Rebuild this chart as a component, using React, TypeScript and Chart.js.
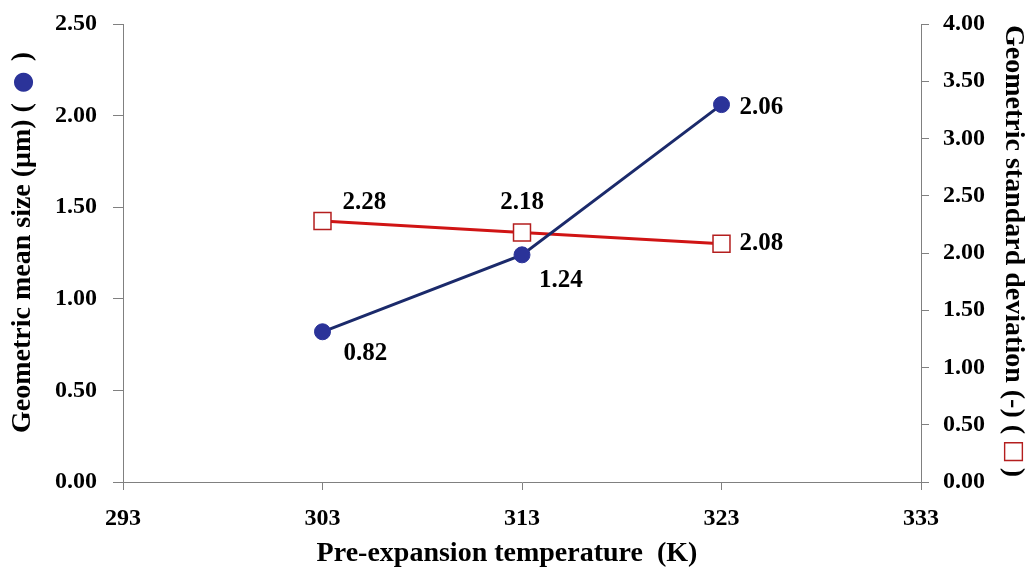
import React, { useEffect, useRef } from "react";
import { Chart, registerables } from "chart.js";

Chart.register(...registerables);

const temperatures = [303, 313, 323];
const meanSize = [0.82, 1.24, 2.06];
const stdDev = [2.28, 2.18, 2.08];
const meanLabels = ["0.82", "1.24", "2.06"];
const stdLabels = ["2.28", "2.18", "2.08"];
const xTitle = "Pre-expansion temperature  (K)";
const leftTitle = ["Geometric mean size (\u03bcm) (", "\u25cf", ")"];
const rightTitle = ["Geometric standard deviation (-) (", "\u25a1", ")"];

const FONT = '"Liberation Serif", "Times New Roman", serif';
const SYMFONT = '"DejaVu Sans", sans-serif';
const BLUE_FILL = "#2B3399";
const BLUE_LINE = "#1B2A6B";
const RED_LINE = "#D01414";
const RED_MARK = "#B41E1E";

// label offsets (style only) relative to the point, [dx, dy, align]
const meanLabelOffsets: [number, number, CanvasTextAlign][] = [
  [21, 22, "left"],
  [17, 26, "left"],
  [18, 3, "left"],
];
const stdLabelOffsets: [number, number, CanvasTextAlign][] = [
  [20, -18, "left"],
  [0, -30, "center"],
  [18, 0, "left"],
];

type Piece = { text: string; color: string; font: string; gapBefore: number };

function drawSeq(
  ctx: CanvasRenderingContext2D,
  pieces: Piece[],
  sx: number,
  sy: number,
  angle: number
) {
  ctx.save();
  ctx.translate(sx, sy);
  ctx.rotate(angle);
  ctx.textBaseline = "middle";
  ctx.textAlign = "left";
  let x = 0;
  pieces.forEach((p) => {
    x += p.gapBefore;
    ctx.font = p.font;
    ctx.fillStyle = p.color;
    ctx.fillText(p.text, x, 0);
    x += ctx.measureText(p.text).width;
  });
  ctx.restore();
}

const textPlugin = {
  id: "customText",
  afterDatasetsDraw(chart: any) {
    const ctx: CanvasRenderingContext2D = chart.ctx;
    ctx.save();
    ctx.font = `bold 25px ${FONT}`;
    ctx.fillStyle = "#000";
    ctx.textBaseline = "middle";
    const m0 = chart.getDatasetMeta(0).data;
    m0.forEach((pt: any, i: number) => {
      const [dx, dy, al] = meanLabelOffsets[i];
      ctx.textAlign = al;
      ctx.fillText(meanLabels[i], pt.x + dx, pt.y + dy);
    });
    const m1 = chart.getDatasetMeta(1).data;
    m1.forEach((pt: any, i: number) => {
      const [dx, dy, al] = stdLabelOffsets[i];
      ctx.textAlign = al;
      ctx.fillText(stdLabels[i], pt.x + dx, pt.y + dy);
    });
    ctx.restore();
  },
  afterDraw(chart: any) {
    const ctx: CanvasRenderingContext2D = chart.ctx;
    const font = `bold 28px ${FONT}`;
    ctx.save();
    ctx.font = font;
    const xw = ctx.measureText(xTitle).width;
    ctx.restore();
    drawSeq(ctx, [{ text: xTitle, color: "#000", font, gapBefore: 0 }], 507 - xw / 2, 554, 0);
    drawSeq(
      ctx,
      [
        { text: leftTitle[0], color: "#000", font, gapBefore: 0 },
        { text: leftTitle[1], color: BLUE_FILL, font: `25px ${SYMFONT}`, gapBefore: 10 },
        { text: leftTitle[2], color: "#000", font, gapBefore: 10 },
      ],
      23,
      433,
      -Math.PI / 2
    );
    drawSeq(
      ctx,
      [
        { text: rightTitle[0], color: "#000", font, gapBefore: 0 },
        { text: rightTitle[1], color: RED_MARK, font: `25px ${SYMFONT}`, gapBefore: 6 },
        { text: rightTitle[2], color: "#000", font, gapBefore: 4 },
      ],
      1013,
      25,
      Math.PI / 2
    );
  },
};

export default function App() {
  const ref = useRef<HTMLCanvasElement>(null);
  useEffect(() => {
    if (!ref.current) return;
    const tickFont = { family: FONT, size: 24, weight: "bold" as const };
    const fixV = (w: number) => (s: any) => {
      s.width = w;
      s.paddingTop = 0;
      s.paddingBottom = 0;
    };
    const chart = new Chart(ref.current, {
      type: "line",
      data: {
        datasets: [
          {
            label: "Geometric mean size",
            data: temperatures.map((t, i) => ({ x: t, y: meanSize[i] })),
            yAxisID: "y",
            borderColor: BLUE_LINE,
            borderWidth: 3,
            backgroundColor: BLUE_FILL,
            pointBackgroundColor: BLUE_FILL,
            pointBorderColor: BLUE_FILL,
            pointStyle: "circle",
            pointRadius: 8,
            pointBorderWidth: 1,
            tension: 0,
          },
          {
            label: "Geometric standard deviation",
            data: temperatures.map((t, i) => ({ x: t, y: stdDev[i] })),
            yAxisID: "y1",
            borderColor: RED_LINE,
            borderWidth: 3,
            backgroundColor: "#ffffff",
            pointBackgroundColor: "#ffffff",
            pointBorderColor: RED_MARK,
            pointStyle: "rect",
            pointRadius: 12,
            pointBorderWidth: 1.5,
            tension: 0,
          },
        ],
      },
      options: {
        animation: false,
        responsive: false,
        events: [],
        layout: { padding: { top: 24, left: 0, right: 0, bottom: 0 } },
        plugins: {
          legend: { display: false },
          tooltip: { enabled: false },
          title: { display: false },
        },
        scales: {
          x: {
            type: "linear",
            min: 293,
            max: 333,
            ticks: { stepSize: 10, font: tickFont, color: "#000", padding: 14 },
            grid: { drawOnChartArea: false, tickLength: 8, color: "#808080" },
            border: { color: "#808080", width: 1 },
            afterFit: (s: any) => {
              s.height = 89;
              s.paddingLeft = 0;
              s.paddingRight = 0;
            },
          },
          y: {
            type: "linear",
            position: "left",
            min: 0,
            max: 2.5,
            ticks: {
              stepSize: 0.5,
              font: tickFont,
              color: "#000",
              padding: 16,
              callback: (v: any) => Number(v).toFixed(2),
            },
            grid: { drawOnChartArea: false, tickLength: 10, color: "#808080" },
            border: { color: "#808080", width: 1 },
            afterFit: fixV(123),
          },
          y1: {
            type: "linear",
            position: "right",
            min: 0,
            max: 4,
            ticks: {
              stepSize: 0.5,
              font: tickFont,
              color: "#000",
              padding: 14,
              callback: (v: any) => Number(v).toFixed(2),
            },
            grid: { drawOnChartArea: false, tickLength: 8, color: "#808080" },
            border: { color: "#808080", width: 1 },
            afterFit: fixV(109),
          },
        },
      },
      plugins: [textPlugin],
    });
    return () => chart.destroy();
  }, []);
  return (
    <div style={{ position: "absolute", left: 0, top: 0, width: 1030, height: 571, background: "#fff" }}>
      <canvas ref={ref} width={1030} height={571} style={{ display: "block" }} />
    </div>
  );
}
